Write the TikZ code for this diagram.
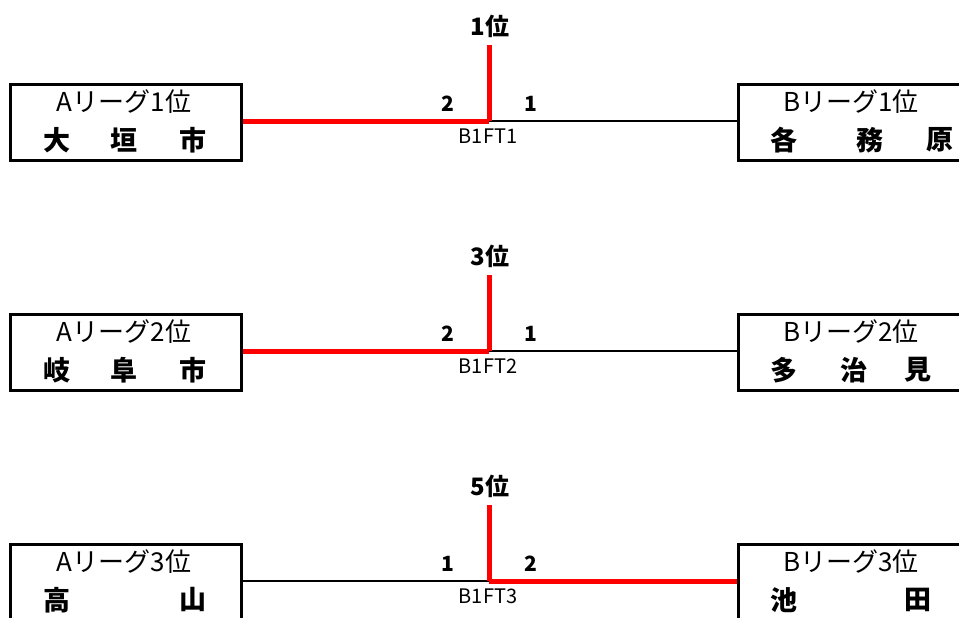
\documentclass[tikz,border=0pt]{standalone}
\usepackage{fontspec}
\setmainfont{Noto Sans CJK JP}
\begin{document}
\begin{tikzpicture}[x=1pt,y=-1pt,
  teambox/.style={draw,line width=3pt,minimum width=231pt,minimum height=76pt,anchor=north west,inner sep=0pt},
  win/.style={red,line width=5pt},
  lose/.style={black,line width=2pt},
  rank/.style={font=\fontsize{24}{24}\selectfont\bfseries},
  seed/.style={font=\fontsize{21}{21}\selectfont\bfseries},
  game/.style={font=\fontsize{20}{20}\selectfont},
  league/.style={font=\fontsize{26}{26}\selectfont},
  team/.style={font=\fontsize{27}{27}\selectfont\bfseries}]
\useasboundingbox (0,0) rectangle (959,618);
\clip (0,0) rectangle (959,618);
% Row 1
\node[teambox] (a1) at (9,83) {};
\node[teambox] (b1) at (737,83) {};
\coordinate (j1) at (489,121);
\coordinate (t1) at (489,45);
\draw[win] (a1.east |- j1) -- (j1);
\draw[lose] (j1) -- (b1.west |- j1);
\draw[win] (j1) -- (t1);
\node[rank] (r1) at (490,26) {1位};
\node[seed] (s1a) at (448,104) {2};
\node[seed] (s1b) at (531,104) {1};
\node[game] (g1) at (488,136) {B1FT1};
\node[league] (la1) at (124,102) {Aリーグ1位};
\node[team] (na1a) at (57,140) {大};
\node[team] (na1b) at (124,140) {垣};
\node[team] (na1c) at (193,140) {市};
\node[league] (lb1) at (851,102) {Bリーグ1位};
\node[team] (nb1a) at (784,140) {各};
\node[team] (nb1b) at (870,140) {務};
\node[team] (nb1c) at (940,140) {原};
% Row 2
\node[teambox] (a2) at (9,313) {};
\node[teambox] (b2) at (737,313) {};
\coordinate (j2) at (489,351);
\coordinate (t2) at (489,275);
\draw[win] (a2.east |- j2) -- (j2);
\draw[lose] (j2) -- (b2.west |- j2);
\draw[win] (j2) -- (t2);
\node[rank] (r2) at (490,256) {3位};
\node[seed] (s2a) at (448,334) {2};
\node[seed] (s2b) at (531,334) {1};
\node[game] (g2) at (488,366) {B1FT2};
\node[league] (la2) at (124,332) {Aリーグ2位};
\node[team] (na2a) at (57,370) {岐};
\node[team] (na2b) at (124,370) {阜};
\node[team] (na2c) at (193,370) {市};
\node[league] (lb2) at (851,332) {Bリーグ2位};
\node[team] (nb2a) at (784,370) {多};
\node[team] (nb2b) at (854,370) {治};
\node[team] (nb2c) at (918,370) {見};
% Row 3
\node[teambox] (a3) at (9,543) {};
\node[teambox] (b3) at (737,543) {};
\coordinate (j3) at (489,581);
\coordinate (t3) at (489,505);
\draw[lose] (a3.east |- j3) -- (j3);
\draw[win] (j3) -- (b3.west |- j3);
\draw[win] (j3) -- (t3);
\node[rank] (r3) at (490,486) {5位};
\node[seed] (s3a) at (448,564) {1};
\node[seed] (s3b) at (531,564) {2};
\node[game] (g3) at (488,596) {B1FT3};
\node[league] (la3) at (124,562) {Aリーグ3位};
\node[team] (na3a) at (57,600) {高};
\node[team] (na3b) at (193,600) {山};
\node[league] (lb3) at (851,562) {Bリーグ3位};
\node[team] (nb3a) at (784,600) {池};
\node[team] (nb3b) at (918,600) {田};
\end{tikzpicture}
\end{document}
